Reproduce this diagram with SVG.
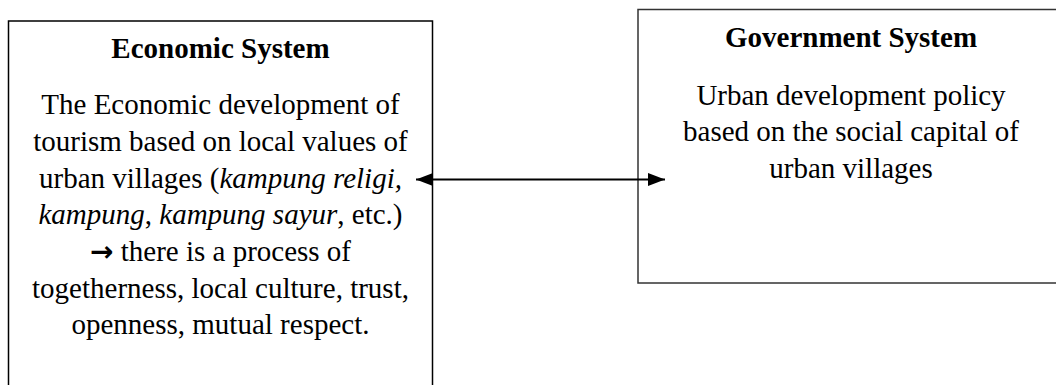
<svg xmlns="http://www.w3.org/2000/svg" width="1056" height="385" viewBox="0 0 1056 385">
  <style>
    .box { fill: #ffffff; stroke: #000000; stroke-width: 1.5; }
    .gbox { fill: #ffffff; stroke: #333333; stroke-width: 1.5; }
    .title { font-family: "Liberation Serif", "Times New Roman", serif; font-size: 29px; font-weight: bold; text-anchor: middle; fill: #000; }
    .body { font-family: "Liberation Serif", "Times New Roman", serif; font-size: 29px; text-anchor: middle; fill: #000; }
    .it { font-style: italic; }
    .sym { font-family: "DejaVu Sans", sans-serif; font-weight: bold; font-size: 28px; }
    .conn { stroke: #000; stroke-width: 2; fill: none; }
  </style>
  <defs>
    <marker id="ah" viewBox="0 0 17 13" refX="17" refY="6.5" markerWidth="17" markerHeight="13" markerUnits="userSpaceOnUse" orient="auto-start-reverse">
      <path d="M0,0 L17,6.5 L0,13 Z" fill="#000"/>
    </marker>
  </defs>
  <rect width="1056" height="385" fill="#ffffff"/>
  <g id="economic-system">
    <rect class="box" x="8.5" y="21" width="424" height="380"/>
    <text class="title" x="220.5" y="58">Economic System</text>
    <text class="body" x="220.5" y="114">The Economic development of</text>
    <text class="body" x="220.5" y="151">tourism based on local values of</text>
    <text class="body" x="220.5" y="187.5">urban villages (<tspan class="it">kampung religi,</tspan></text>
    <text class="body" x="220.5" y="224"><tspan class="it">kampung</tspan>, <tspan class="it">kampung sayur</tspan>, etc.)</text>
    <text class="body" x="220.5" y="261"><tspan class="sym">→</tspan> there is a process of</text>
    <text class="body" x="220.5" y="297.5">togetherness, local culture, trust,</text>
    <text class="body" x="220.5" y="334">openness, mutual respect.</text>
  </g>
  <g id="government-system">
    <rect class="gbox" x="638" y="9.5" width="426" height="273.5"/>
    <text class="title" x="851" y="47">Government System</text>
    <text class="body" x="851" y="104.5">Urban development policy</text>
    <text class="body" x="851" y="141">based on the social capital of</text>
    <text class="body" x="851" y="177.5">urban villages</text>
  </g>
  <g id="connectors">
    <line class="conn" x1="416" y1="179.5" x2="665" y2="179.5" marker-start="url(#ah)" marker-end="url(#ah)"/>
  </g>
</svg>
